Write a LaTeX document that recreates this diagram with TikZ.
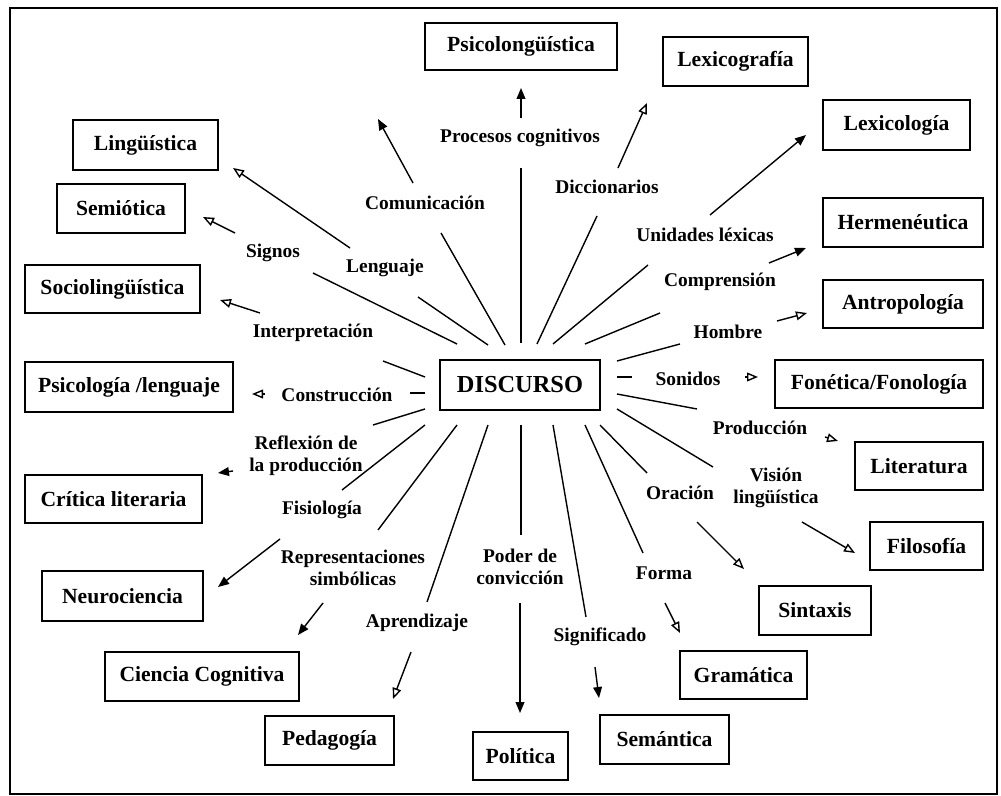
\documentclass[tikz,border=0pt]{standalone}
\usepackage{fontspec}
\setmainfont{Liberation Serif}
\usetikzlibrary{arrows.meta}
\tikzset{
  box/.style={draw, line width=0.8pt, inner sep=0pt, font=\fontsize{10.8}{12}\selectfont\bfseries},
  lbl/.style={inner sep=0pt, align=center, font=\fontsize{9.7}{11}\selectfont\bfseries},
  spoke/.style={line width=0.7pt},
  arrF/.style={line width=0.7pt, -{Triangle[length=5.5pt,width=4.4pt]}},
  arrO/.style={line width=0.7pt, -{Triangle[open,length=5.5pt,width=4.4pt]}},
}
\begin{document}
\begin{tikzpicture}[x=0.5pt,y=-0.5pt]
\useasboundingbox (0,0) rectangle (1001,796);
\draw[line width=0.8pt] (10,8) rectangle (997,794);

% central node
\node[box, minimum width=80pt, minimum height=25pt, font=\fontsize{12.2}{14}\selectfont\bfseries] (disc) at (520,385) {DISCURSO};

% target boxes
\node[box, minimum width=96pt, minimum height=23.5pt] (psicolong) at (521,46.5) {Psicolongüística};
\node[box, minimum width=72.5pt, minimum height=24.5pt] (lexicog) at (735.5,61.5) {Lexicografía};
\node[box, minimum width=73.5pt, minimum height=25pt] (lexicol) at (896.5,125) {Lexicología};
\node[box, minimum width=80pt, minimum height=24.5pt] (herme) at (903,222.5) {Hermenéutica};
\node[box, minimum width=80pt, minimum height=24pt] (antro) at (903,304) {Antropología};
\node[box, minimum width=104pt, minimum height=24pt] (fonet) at (879,384) {Fonética/Fonología};
\node[box, minimum width=64pt, minimum height=24pt] (liter) at (919,466) {Literatura};
\node[box, minimum width=56.5pt, minimum height=24pt] (filos) at (926.5,546) {Filosofía};
\node[box, minimum width=56pt, minimum height=24.5pt] (sintax) at (815,610.5) {Sintaxis};
\node[box, minimum width=63.5pt, minimum height=24pt] (gram) at (743.5,675) {Gramática};
\node[box, minimum width=64.5pt, minimum height=24.5pt] (seman) at (664.5,739.5) {Semántica};
\node[box, minimum width=47.5pt, minimum height=24pt] (polit) at (520.5,756) {Política};
\node[box, minimum width=64.5pt, minimum height=24.5pt] (pedag) at (329.5,740.5) {Pedagogía};
\node[box, minimum width=97pt, minimum height=24.5pt] (ciencia) at (202,676.5) {Ciencia Cognitiva};
\node[box, minimum width=80.5pt, minimum height=25pt] (neuro) at (122.5,596) {Neurociencia};
\node[box, minimum width=88.5pt, minimum height=24pt] (critica) at (113.5,499) {Crítica literaria};
\node[box, minimum width=104pt, minimum height=25pt] (psicol) at (129,387) {Psicología /lenguaje};
\node[box, minimum width=87.5pt, minimum height=24pt] (socio) at (112.5,289) {Sociolingüística};
\node[box, minimum width=64pt, minimum height=24.5pt] (semiot) at (121,208.5) {Semiótica};
\node[box, minimum width=72.5pt, minimum height=25pt] (linguis) at (145.5,145) {Lingüística};

% labels
\node[lbl] (lproc) at (520,138) {Procesos cognitivos};
\node[lbl] (lcomu) at (425,203) {Comunicación};
\node[lbl] (ldicc) at (607,187) {Diccionarios};
\node[lbl] (lunid) at (705,235) {Unidades léxicas};
\node[lbl] (lsign) at (273,253) {Signos};
\node[lbl] (lleng) at (385,268) {Lenguaje};
\node[lbl] (lcomp) at (720,282) {Comprensión};
\node[lbl] (linte) at (313,333) {Interpretación};
\node[lbl] (lhomb) at (728,332) {Hombre};
\node[lbl] (lcons) at (337,395) {Construcción};
\node[lbl] (lsoni) at (688,379) {Sonidos};
\node[lbl] (lrefl) at (306,456) {Reflexión de\\la producción};
\node[lbl] (lprod) at (760,428) {Producción};
\node[lbl] (lfisi) at (322,510) {Fisiología};
\node[lbl] (lvisi) at (776,488) {Visión\\lingüística};
\node[lbl] (lorac) at (680,493) {Oración};
\node[lbl] (lrepr) at (353,568) {Representaciones\\simbólicas};
\node[lbl] (lpode) at (520,567) {Poder de\\convicción};
\node[lbl] (lform) at (664,573) {Forma};
\node[lbl] (lapre) at (417,623) {Aprendizaje};
\node[lbl] (lsign2) at (600,637) {Significado};

% spokes from DISCURSO to labels
\foreach \n/\ax/\ay/\bx/\by in {
  proc/521/343/521/168, comu/505/345/441/233, dicc/537/344/597/216,
  unid/553/344/648/265, leng/488/345/418/297, sign/457/344/313/273,
  comp/585/344/660/313, inte/425/377/383/361, homb/617/361/680/344,
  cons/425/393/410/393, soni/617/377/632/377, refl/425/409/373/425,
  prod/617/394/697/409, fisi/425/425/342/490, visi/617/409/713/467,
  orac/600/425/647/473, repr/457/425/378/530, pode/521/425/521/535,
  form/585/425/643/553, apre/488/425/427/602, sigf/553/425/586/617}{
  \coordinate (s\n a) at (\ax,\ay);
  \coordinate (s\n b) at (\bx,\by);
  \draw[spoke] (s\n a) -- (s\n b);
}

% arrows from labels towards boxes
\foreach \n/\st/\ax/\ay/\bx/\by in {
  psicolong/arrF/521/118/521/88, comu/arrF/413/183/378/119,
  lexicog/arrO/618/168/647/103, lexicol/arrF/710/215/806/135,
  herme/arrF/769/263/806/248, linguis/arrO/350/248/233/168,
  semiot/arrO/235/233/203/217, socio/arrO/260/313/220/300,
  antro/arrO/777/321/807/313, psicol/arrO/265/394/252/394,
  fonet/arrO/745/377/758/377, critica/arrF/233/471/218/473,
  liter/arrO/825/437/838/441, neuro/arrF/280/539/218/587,
  sintax/arrO/697/522/744/569, filos/arrO/802/522/855/553,
  ciencia/arrF/323/603/298/635, polit/arrF/520/603/520/713,
  gram/arrO/665/603/680/633, pedag/arrO/411/652/393/699,
  seman/arrF/595/667/599/698}{
  \coordinate (t\n a) at (\ax,\ay);
  \coordinate (t\n b) at (\bx,\by);
  \draw[\st] (t\n a) -- (t\n b);
}
\end{tikzpicture}
\end{document}
